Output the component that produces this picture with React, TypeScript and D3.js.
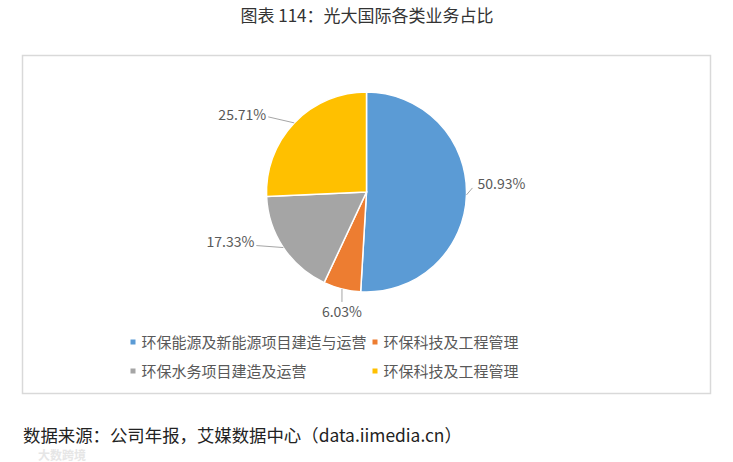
import React from "react";
import * as d3 from "d3";

const categories = [
  "环保能源及新能源项目建造与运营",
  "环保科技及工程管理",
  "环保水务项目建造及运营",
  "环保科技及工程管理",
];
const values = [50.93, 6.03, 17.33, 25.71];
const colors = ["#5B9BD5", "#ED7D31", "#A5A5A5", "#FFC000"];
const labels = ["50.93%", "6.03%", "17.33%", "25.71%"];

const W = 733;
const H = 462;
const FONT = '"Noto Sans CJK SC", "Noto Sans", sans-serif';

// leader elbow offsets and label placement (layout only)
const leaderOffsets: [number, number][] = [
  [6, -7],
  [0, 13],
  [-27, -2],
  [-26, -6],
];
const textOffsets: [number, number, string][] = [
  [5, 1, "start"],
  [0, 15, "middle"],
  [-2, 1, "end"],
  [-2, 3, "end"],
];

export default function App() {
  const cx = 366.5;
  const cy = 192;
  const r = 100;
  const pie = d3.pie<number>().sort(null).value((d) => d)(values);
  const arc = d3.arc<d3.PieArcDatum<number>>().innerRadius(0).outerRadius(r);

  const legendPos = [
    [133, 342],
    [375, 342],
    [133, 371],
    [375, 371],
  ];

  return (
    <svg
      width={W}
      height={H}
      style={{ position: "absolute", left: 0, top: 0, background: "#fff" }}
      fontFamily={FONT}
    >
      <rect x={0} y={0} width={W} height={H} fill="#fff" />
      <text x={367} y={22} textAnchor="middle" fontSize={17} fill="#333">
        图表 114：光大国际各类业务占比
      </text>
      <rect
        x={22.5}
        y={55.5}
        width={688}
        height={338}
        fill="#fff"
        stroke="#d9d9d9"
        strokeWidth={1.5}
      />
      <g transform={`translate(${cx},${cy})`}>
        {pie.map((p, i) => (
          <path key={i} d={arc(p) || ""} fill={colors[i]} stroke="#fff" strokeWidth={1.5} />
        ))}
        {pie.map((p, i) => {
          const a = (p.startAngle + p.endAngle) / 2;
          const px = r * Math.sin(a);
          const py = -r * Math.cos(a);
          const qx = px + leaderOffsets[i][0];
          const qy = py + leaderOffsets[i][1];
          const [tx, ty, anchor] = textOffsets[i];
          return (
            <g key={"l" + i}>
              <polyline
                points={`${px},${py} ${qx},${qy}`}
                fill="none"
                stroke="#a6a6a6"
                strokeWidth={1}
              />
              <text
                x={qx + tx}
                y={qy + ty}
                textAnchor={anchor as any}
                fontSize={14}
                fill="#595959"
              >
                {labels[i]}
              </text>
            </g>
          );
        })}
      </g>
      {categories.map((c, i) => (
        <g key={"lg" + i}>
          <rect
            x={legendPos[i][0] - 2.5}
            y={legendPos[i][1] - 2.5}
            width={5}
            height={5}
            fill={colors[i]}
          />
          <text
            x={legendPos[i][0] + 8.5}
            y={legendPos[i][1] + 5.5}
            fontSize={15}
            fill="#595959"
          >
            {c}
          </text>
        </g>
      ))}
      <text x={23} y={442} fontSize={17.4} fill="#222">
        数据来源：公司年报，艾媒数据中心（data.iimedia.cn）
      </text>
      <text x={38} y={460} fontSize={12} fill="#e6e6e6" fontWeight="bold">
        大数跨境
      </text>
    </svg>
  );
}
